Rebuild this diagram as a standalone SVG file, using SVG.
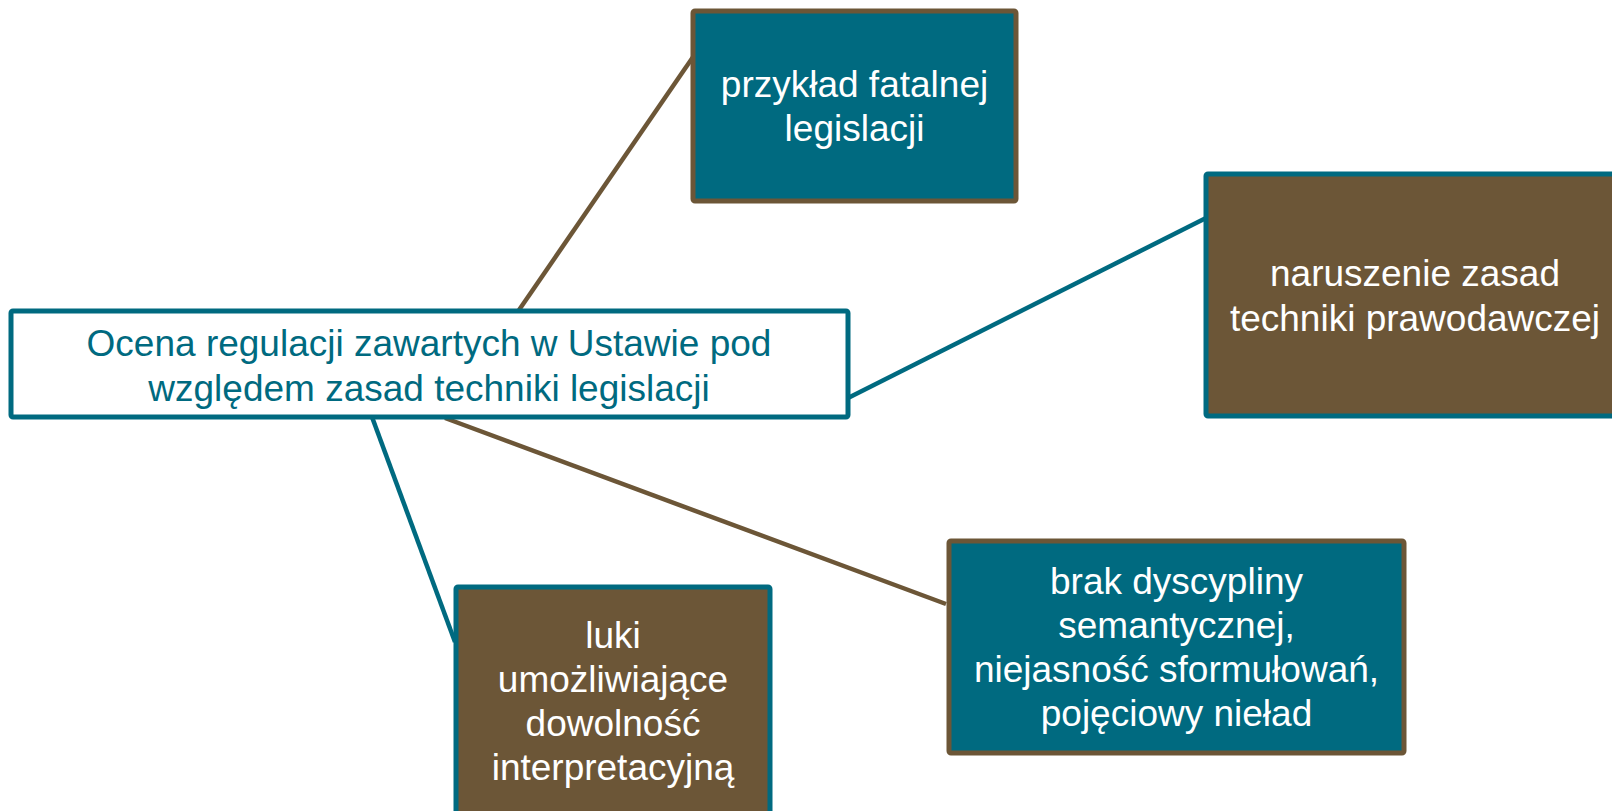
<svg xmlns="http://www.w3.org/2000/svg" width="1612" height="811" viewBox="0 0 1612 811">
<style>
.tl{stroke:#006A80;stroke-width:4.5;fill:none}
.br{stroke:#6C5637;stroke-width:4.5;fill:none}
.boxT{fill:#006A80;stroke:#6C5637;stroke-width:5}
.boxB{fill:#6C5637;stroke:#006A80;stroke-width:5}
.boxW{fill:#FFFFFF;stroke:#006A80;stroke-width:5}
text{font-family:"Liberation Sans",Arial,sans-serif;font-size:37px;text-anchor:middle}
.w{fill:#FFFFFF}
.t{fill:#006A80}
</style>
<rect width="1612" height="811" fill="#FFFFFF"/>
<g id="connectors">
<line class="br" x1="519" y1="310" x2="693" y2="57"/>
<line class="tl" x1="848" y1="398" x2="1206" y2="218"/>
<line class="br" x1="445" y1="418" x2="946" y2="604"/>
<line class="tl" x1="372" y1="417" x2="455" y2="642"/>
</g>
<g id="node-center">
<rect class="boxW" x="11" y="311" width="837" height="106" rx="2"/>
<text class="t" x="429" y="356">Ocena regulacji zawartych w Ustawie pod</text>
<text class="t" x="429" y="401">względem zasad techniki legislacji</text>
</g>
<g id="node-fatalna">
<rect class="boxT" x="693" y="11" width="323" height="190" rx="2"/>
<text class="w" x="854.5" y="97">przykład fatalnej</text>
<text class="w" x="854.5" y="141">legislacji</text>
</g>
<g id="node-naruszenie">
<rect class="boxB" x="1206" y="174" width="418" height="242" rx="2"/>
<text class="w" x="1415" y="286">naruszenie zasad</text>
<text class="w" x="1415" y="331">techniki prawodawczej</text>
</g>
<g id="node-dyscyplina">
<rect class="boxT" x="949" y="541" width="455" height="212" rx="2"/>
<text class="w" x="1176.5" y="594">brak dyscypliny</text>
<text class="w" x="1176.5" y="638">semantycznej,</text>
<text class="w" x="1176.5" y="682">niejasność sformułowań,</text>
<text class="w" x="1176.5" y="726">pojęciowy nieład</text>
</g>
<g id="node-luki">
<rect class="boxB" x="456" y="587" width="314" height="232" rx="2"/>
<text class="w" x="613" y="648">luki</text>
<text class="w" x="613" y="692">umożliwiające</text>
<text class="w" x="613" y="736">dowolność</text>
<text class="w" x="613" y="780">interpretacyjną</text>
</g>
</svg>
